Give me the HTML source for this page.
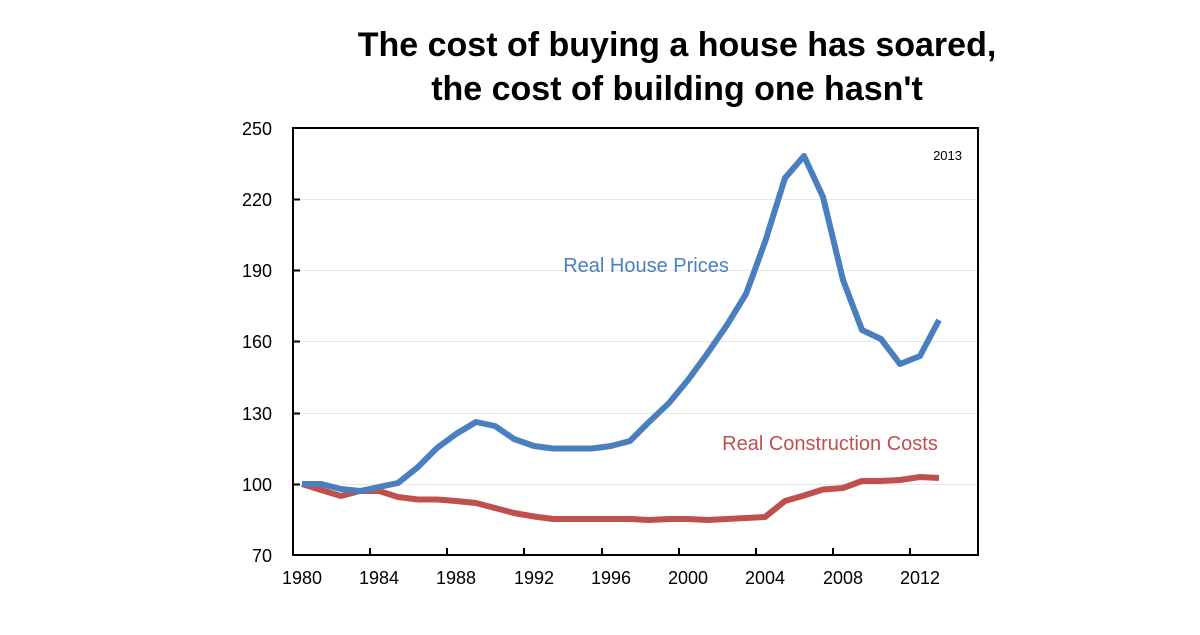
<!DOCTYPE html>
<html><head><style>
body{margin:0;background:#fff;width:1200px;height:630px;overflow:hidden}
svg text{font-family:"Liberation Sans",sans-serif}
</style></head><body>
<svg width="1200" height="630" viewBox="0 0 1200 630" xmlns="http://www.w3.org/2000/svg">
<text x="677" y="56" font-size="34" font-weight="bold" text-anchor="middle">The cost of buying a house has soared,</text>
<text x="677" y="100" font-size="34" font-weight="bold" text-anchor="middle">the cost of building one hasn't</text>
<g stroke="#e8e8e8" stroke-width="1">
<line x1="293" x2="978" y1="199.5" y2="199.5"/><line x1="293" x2="978" y1="270.5" y2="270.5"/>
<line x1="293" x2="978" y1="341.5" y2="341.5"/><line x1="293" x2="978" y1="413.5" y2="413.5"/>
<line x1="293" x2="978" y1="484.5" y2="484.5"/>
</g>
<rect x="293" y="128" width="685" height="427" fill="none" stroke="#000" stroke-width="2"/>
<g stroke="#000" stroke-width="2">
<line x1="293" x2="300" y1="199.5" y2="199.5"/><line x1="293" x2="300" y1="270.5" y2="270.5"/>
<line x1="293" x2="300" y1="341.5" y2="341.5"/><line x1="293" x2="300" y1="413.5" y2="413.5"/>
<line x1="293" x2="300" y1="484.5" y2="484.5"/>
<line x1="370" x2="370" y1="548" y2="555"/><line x1="447" x2="447" y1="548" y2="555"/>
<line x1="524" x2="524" y1="548" y2="555"/><line x1="602" x2="602" y1="548" y2="555"/>
<line x1="679" x2="679" y1="548" y2="555"/><line x1="756" x2="756" y1="548" y2="555"/>
<line x1="833" x2="833" y1="548" y2="555"/><line x1="910" x2="910" y1="548" y2="555"/>
</g>
<g font-size="18" text-anchor="end">
<text x="272" y="135">250</text><text x="272" y="206">220</text><text x="272" y="277">190</text>
<text x="272" y="348">160</text><text x="272" y="420">130</text><text x="272" y="491">100</text>
<text x="272" y="562">70</text>
</g>
<g font-size="18" text-anchor="middle">
<text x="302" y="584">1980</text><text x="379" y="584">1984</text><text x="456" y="584">1988</text>
<text x="534" y="584">1992</text><text x="611" y="584">1996</text><text x="688" y="584">2000</text>
<text x="765" y="584">2004</text><text x="843" y="584">2008</text><text x="920" y="584">2012</text>
</g>
<text x="962" y="160" font-size="13" text-anchor="end">2013</text>
<text x="646" y="272" font-size="20" fill="#4a7fbf" text-anchor="middle">Real House Prices</text>
<text x="830" y="450" font-size="20" fill="#c0504d" text-anchor="middle">Real Construction Costs</text>
<polyline fill="none" stroke="#c0504d" stroke-width="6" stroke-linejoin="round" points="302,484 321,490 341,496 360,491 379,491 398,497 418,499.5 437,499.5 456,501 476,503 495,508 514,513 534,516.5 553,519 572,519 592,519 611,519 630,519 649,520 669,519 688,519 707,520 727,519 746,518 765,517 785,501 804,495.5 823,489.5 843,488 862,481 881,481 900,480 920,477 939,478"/>
<polyline fill="none" stroke="#4a7fbf" stroke-width="6" stroke-linejoin="round" points="302,484 321,484 341,489 360,491 379,487 398,483 418,467 437,448 456,434 476,422 495,426 514,439 534,446 553,448.5 572,448.5 592,448.5 611,446 630,441 649,422 669,403 688,380 707,354 727,325 746,294 765,242 785,178 804,156 823,197 843,280 862,330 881,339 900,364 920,356 939,320"/>
</svg>
</body></html>
